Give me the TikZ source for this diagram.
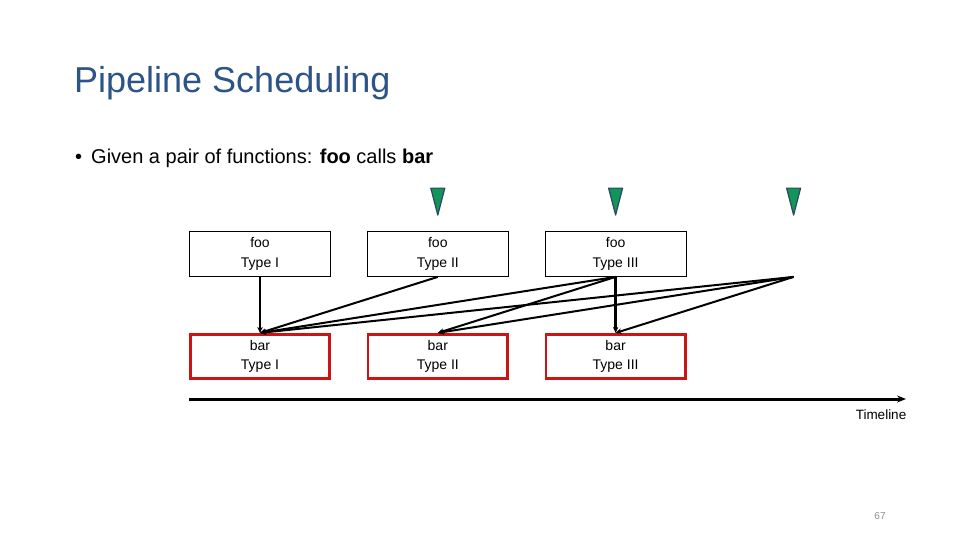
\documentclass[tikz,border=0pt]{standalone}
\usepackage{fontspec}
\setmainfont{Liberation Sans}
\usetikzlibrary{arrows.meta, positioning}
\definecolor{titleblue}{RGB}{44,84,135}
\definecolor{barred}{RGB}{204,20,20}
\definecolor{markgreen}{RGB}{16,150,88}
\definecolor{markedge}{RGB}{45,70,100}
\definecolor{pagegray}{RGB}{140,140,140}

\begin{document}
\begin{tikzpicture}[
    x=1pt, y=-1pt,
    node distance=56pt and 36pt,
    foobox/.style={rectangle, minimum width=141pt, minimum height=45pt, inner sep=0pt, align=center, draw=black, line width=0.8pt, font=\fontsize{14}{19.5}\selectfont},
    barbox/.style={foobox, minimum width=139.5pt, minimum height=44.5pt, draw=barred, line width=2.6pt},
    marker/.style={fill=markgreen, draw=markedge, line width=1.2pt, line join=round},
    call/.style={-{Stealth[length=6pt, width=5.5pt]}, line width=2pt},
    timeline/.style={-{Stealth[length=9pt, width=7pt]}, line width=3pt},
    plain/.style={anchor=base west, inner sep=0pt}
]
\useasboundingbox (0,0) rectangle (960,540);

\node (title) [plain, text=titleblue, font=\fontsize{36}{40}\selectfont] at (74,93) {Pipeline Scheduling};
\node (bullet) [plain, font=\fontsize{20}{22}\selectfont] at (75,164) {\textbullet};
\node (intro) [plain, font=\fontsize{20}{22}\selectfont] at (91,164) {Given a pair of functions: \textbf{foo} calls \textbf{bar}};

% functions
\node (foo1) [foobox] at (260,254) {foo\\Type I};
\node (foo2) [foobox, right=of foo1] {foo\\Type II};
\node (foo3) [foobox, right=of foo2] {foo\\Type III};
\node (bar1) [barbox, below=of foo1] {bar\\Type I};
\node (bar2) [barbox, below=of foo2] {bar\\Type II};
\node (bar3) [barbox, below=of foo3] {bar\\Type III};
\coordinate (late) at ([xshift=178pt]foo3.south);
\coordinate (lateTop) at ([xshift=178pt]foo3.north);

% markers
\draw [marker] ([yshift=16pt]foo2.north) -- ++(-7,-27) -- ++(14,0) -- cycle;
\draw [marker] ([yshift=16pt]foo3.north) -- ++(-7,-27) -- ++(14,0) -- cycle;
\draw [marker] ([yshift=16pt]lateTop) -- ++(-7,-27) -- ++(14,0) -- cycle;

% calls
\draw [call] (foo1) -- (bar1);
\draw [call] (foo2.south) -- (bar1.north);
\draw [call] (foo3.south) -- (bar1.north);
\draw [call] (foo3.south) -- (bar2.north);
\draw [call, line width=3pt] (foo3) -- (bar3);
\draw [call] (late) -- (bar1.north);
\draw [call] (late) -- (bar2.north);
\draw [call] (late) -- (bar3.north);

% timeline
\coordinate (tstart) at (189,399);
\coordinate (tend) at (906,399);
\draw [timeline] (tstart) -- (tend);
\node (tlabel) [plain, anchor=base, font=\fontsize{13.5}{16}\selectfont] at (881,419) {Timeline};
\node (pagenum) [plain, anchor=base, text=pagegray, font=\fontsize{10}{12}\selectfont] at (880,519) {67};
\end{tikzpicture}
\end{document}
